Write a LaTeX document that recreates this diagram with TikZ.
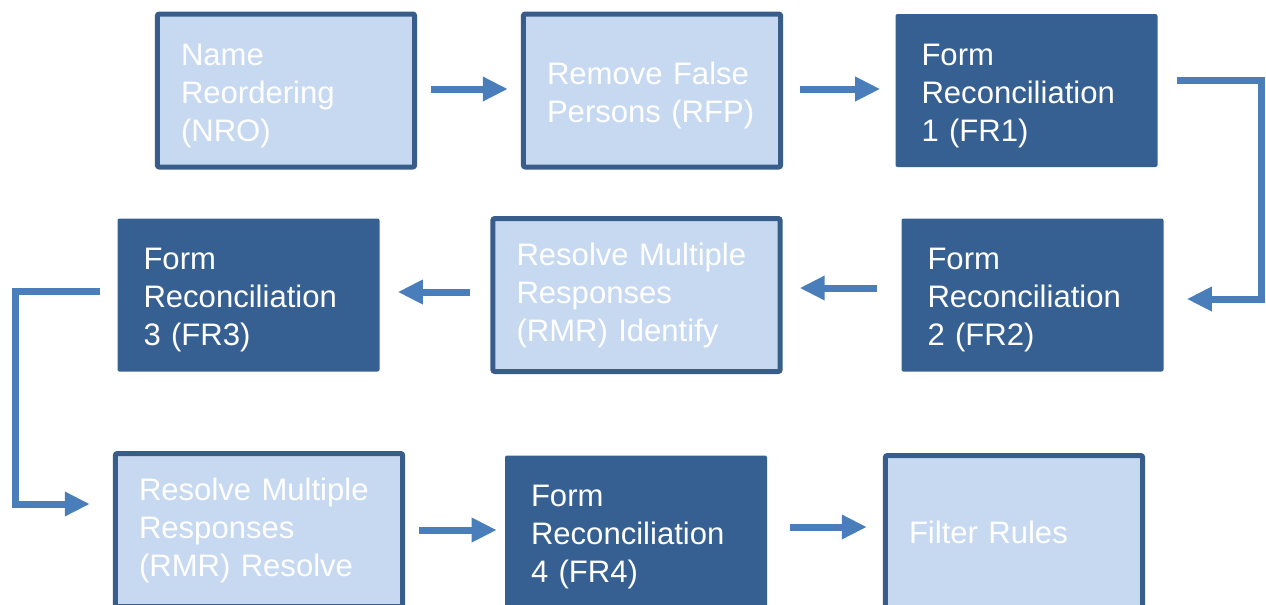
\documentclass[tikz,border=0pt]{standalone}
\usepackage{fontspec}
\setmainfont{Liberation Sans}
\usetikzlibrary{arrows.meta}
\definecolor{lightfill}{HTML}{C6D9F1}
\definecolor{edgeblue}{HTML}{385D8A}
\definecolor{darkfill}{HTML}{376092}
\definecolor{flowblue}{HTML}{4A7EBB}
\tikzset{
  textdrop/.store in=\stagedrop, textdrop=-8pt,
  stage/.style={rectangle, rounded corners=1.5pt, minimum height=114.75pt, text width=157.5pt,
    inner ysep=0pt, align=left, text=white, font=\fontsize{23.3}{28.5}\selectfont,
    execute at end node={\vspace*{\stagedrop}}},
  lightstage/.style={stage, fill=lightfill, draw=edgeblue, line width=3.75pt, inner xsep=17.75pt},
  darkstage/.style={stage, fill=darkfill, inner xsep=19.5pt},
  widestage/.style={text width=180pt, textdrop=0pt},
  flow/.style={draw=flowblue, line width=5.25pt, -{Triangle[width=17.25pt,length=18.75pt]}},
}
\begin{document}
\begin{tikzpicture}[x=0.75pt,y=-0.75pt]
    \useasboundingbox (0,0) rectangle (1266,604);
    \node [lightstage] (nro) at (286,90.5) {Name\\Reordering\\(NRO)};
    \node [lightstage] (rfp) at (652,90.5) {Remove False\\Persons (RFP)};
    \node [darkstage] (fr1) at (1026.5,90.5) {Form\\Reconciliation\\1 (FR1)};
    \node [darkstage] (fr3) at (248.5,295) {Form\\Reconciliation\\3 (FR3)};
    \node [lightstage,widestage] (rmri) at (636.5,295) {Resolve Multiple\\Responses\\(RMR) Identify};
    \node [darkstage] (fr2) at (1032.5,295) {Form\\Reconciliation\\2 (FR2)};
    \node [lightstage,widestage] (rmrr) at (259,530) {Resolve Multiple\\Responses\\(RMR) Resolve};
    \node [darkstage] (fr4) at (636,532) {Form\\Reconciliation\\4 (FR4)};
    \node [lightstage,textdrop=0pt] (filt) at (1014,532) {Filter Rules};
    \draw [flow] ([shift={(14,-1.5)}]nro.east) -- ([shift={(-13,-1.5)}]rfp.west);
    \draw [flow] ([shift={(17,-1.5)}]rfp.east) -- ([shift={(-15,-1.5)}]fr1.west);
    \draw [flow] ([shift={(19,-10)}]fr1.east) -- ++(85,0) |- ([shift={(23,4)}]fr2.east);
    \draw [flow] ([shift={(-24,-7)}]fr2.west) -- ([shift={(17,-7)}]rmri.east);
    \draw [flow] ([shift={(-20,-3)}]rmri.west) -- ([shift={(18,-3)}]fr3.east);
    \draw [flow] ([shift={(-17,-4)}]fr3.west) -- ++(-85,0) |- ([shift={(-23,-26)}]rmrr.west);
    \draw [flow] ([shift={(14,0)}]rmrr.east) -- ([shift={(-8,-2)}]fr4.west);
    \draw [flow] ([shift={(23,-5)}]fr4.east) -- ([shift={(-16,-5)}]filt.west);
\end{tikzpicture}
\end{document}
